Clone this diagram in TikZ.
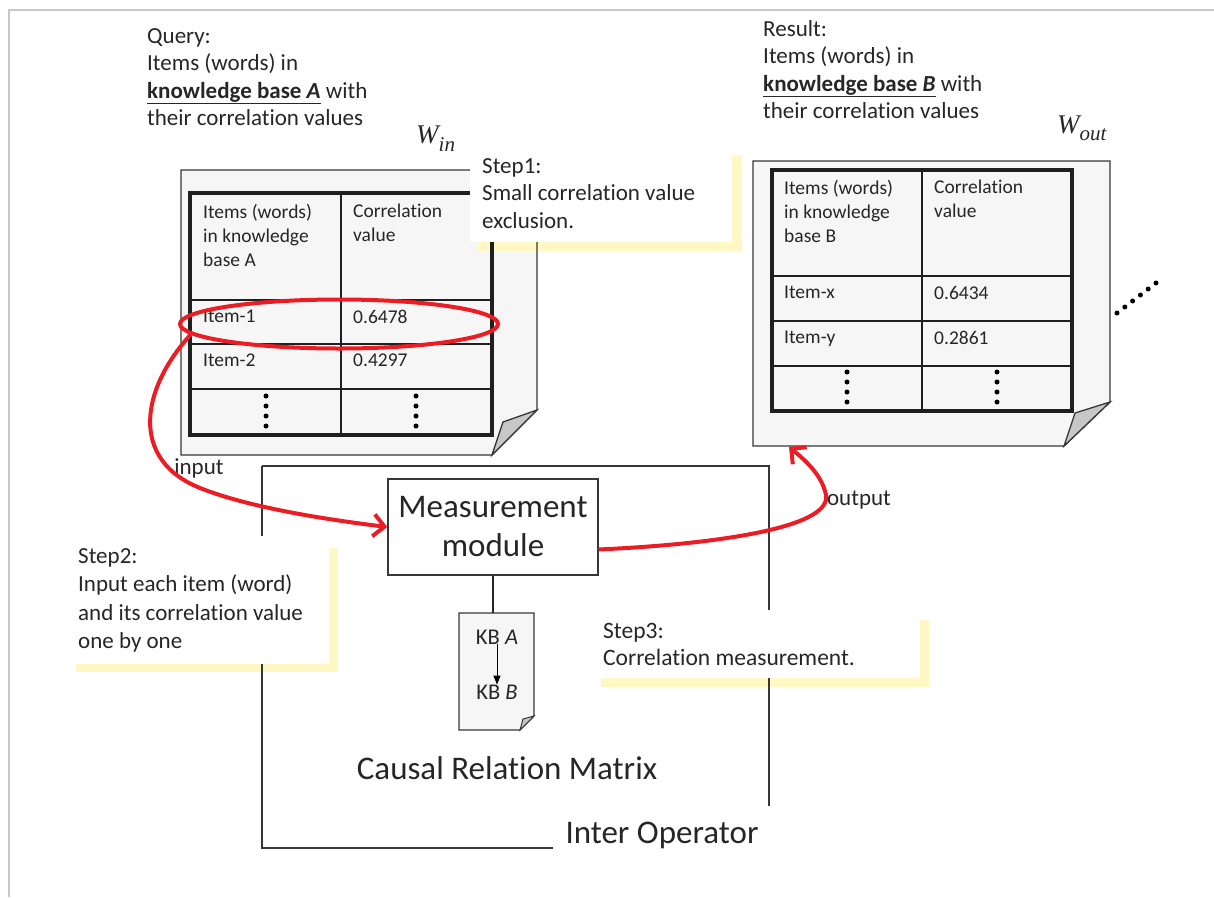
\documentclass[tikz,border=0pt]{standalone}
\usepackage{fontspec}
\setmainfont{Carlito}[Ligatures=NoCommon]
\newfontfamily\tmsfam{Liberation Serif}
\usetikzlibrary{arrows.meta,shapes.geometric}
\definecolor{stepyellow}{RGB}{255,248,196}
\definecolor{myred}{RGB}{236,28,36}
\definecolor{pagefill}{RGB}{246,246,246}
\definecolor{framegray}{RGB}{200,200,200}
\definecolor{linegray}{RGB}{55,55,55}
\newcommand\bigtxtfont{\fontsize{23}{27.5}\selectfont}
\newcommand\tabtxtfont{\fontsize{19.5}{24}\selectfont}
\begin{document}
\begin{tikzpicture}[x=1pt,y=-1pt,
  txt/.style={anchor=north west, inner sep=0pt, align=left, text=black!85},
  bigtxt/.style={txt, font=\bigtxtfont},
  tabtxt/.style={txt, font=\tabtxtfont},
  pageshape/.style={draw=linegray, line width=1.3pt},
  foldshape/.style={draw=linegray, line width=1.3pt, fill=black!22},
  tabouter/.style={draw=black!88, line width=3.5pt},
  tabinner/.style={draw=black!88, line width=2pt},
  ybar/.style={fill=stepyellow, draw=none},
  wbox/.style={fill=white, draw=none},
  oplines/.style={draw=linegray, line width=1.4pt},
  redline/.style={draw=myred, line width=4pt},
  redarrow/.style={redline, -{Straight Barb[length=11pt,width=22pt,line width=4pt]}},
  tdot/.style={circle, fill=black, inner sep=0pt, minimum size=5pt}]
\useasboundingbox (0,0) rectangle (1214,897);
% outer frame
\draw[framegray, line width=2pt] (9,897) -- (9,10) -- (1214,10);

% page fills
\fill[pagefill] (181,170) -- (537,170) -- (537,410) -- (492,455) -- (181,455) -- cycle;
\fill[pagefill] (753,161) -- (1110,161) -- (1110,402) -- (1064,446) -- (753,446) -- cycle;

% yellow step shadows
\fill[ybar] (732,155) rectangle (742,251);
\fill[ybar] (478,242) rectangle (742,251);
\fill[ybar] (329,548) rectangle (338,672);
\fill[ybar] (76,664) rectangle (338,672);
\fill[ybar] (920,620) rectangle (929,687);
\fill[ybar] (601,678) rectangle (929,687);

% page A
\draw[pageshape] (181,170) -- (537,170) -- (537,410) -- (492,455) -- (181,455) -- cycle;
\draw[foldshape] (492,455) -- (503,422) -- (537,410) -- cycle;
% table A
\draw[tabinner] (341,193) -- (341,435);
\draw[tabinner] (190,300) -- (492,300);
\draw[tabinner] (190,344) -- (492,344);
\draw[tabinner] (190,389) -- (492,389);
\draw[tabouter] (190,193) rectangle (492,435);

% page B
\draw[pageshape] (753,161) -- (1110,161) -- (1110,402) -- (1064,446) -- (753,446) -- cycle;
\draw[foldshape] (1064,446) -- (1075,413) -- (1110,402) -- cycle;
% table B
\draw[tabinner] (922,170) -- (922,411);
\draw[tabinner] (772,276) -- (1072,276);
\draw[tabinner] (772,321) -- (1072,321);
\draw[tabinner] (772,366) -- (1072,366);
\draw[tabouter] (772,170) rectangle (1072,411);

% inter operator frame
\draw[oplines] (262,466) -- (769,466) -- (769,806);
\draw[oplines] (262,466) -- (262,848) -- (553,848);

% white step boxes
\fill[wbox] (470,150) rectangle (732,242);
\fill[wbox] (68,536) rectangle (329,664);
\fill[wbox] (594,610) rectangle (920,678);

% top texts
\node[bigtxt] (query) at (147,28) {Query:\\Items (words) in\\\textbf{\underline{knowledge base \textit{A}}} with\\their correlation values};
\node[bigtxt] (result) at (763,20) {Result:\\Items (words) in\\\textbf{\underline{knowledge base \textit{B}}} with\\their correlation values};

% W labels
\node[anchor=base west, inner sep=0pt, font=\tmsfam\itshape\fontsize{27}{27}\selectfont, text=black!85] (win) at (416,143) {W\raisebox{-8pt}{\fontsize{21}{21}\selectfont in}};
\node[anchor=base west, inner sep=0pt, font=\tmsfam\itshape\fontsize{27}{27}\selectfont, text=black!85] (wout) at (1057,133) {W\raisebox{-7pt}{\fontsize{21}{21}\selectfont out}};

% step texts
\node[bigtxt] (step1) at (482,158) {Step1:\\Small correlation value\\exclusion.};
\node[bigtxt, font=\fontsize{23}{28.5}\selectfont] (step2) at (78,548) {Step2:\\Input each item (word)\\and its correlation value\\one by one};
\node[bigtxt, font=\fontsize{23.5}{27}\selectfont] (step3) at (603,623) {Step3:\\Correlation measurement.};

% table A texts
\node[tabtxt] (ah1) at (203,204) {Items (words)\\in knowledge\\base A};
\node[tabtxt] (ah2) at (353,204) {Correlation\\value};
\node[tabtxt] (a11) at (203,310) {Item-1};
\node[tabtxt] (a12) at (353,310) {0.6478};
\node[tabtxt] (a21) at (203,354) {Item-2};
\node[tabtxt] (a22) at (353,354) {0.4297};
\foreach \yy in {396,406,416,426}{
  \node[tdot] at (266,\yy) {};
  \node[tdot] at (416,\yy) {};
}
% table B texts
\node[tabtxt] (bh1) at (784,180) {Items (words)\\in knowledge\\base B};
\node[tabtxt] (bh2) at (934,180) {Correlation\\value};
\node[tabtxt] (b11) at (784,286) {Item-x};
\node[tabtxt] (b12) at (934,286) {0.6434};
\node[tabtxt] (b21) at (784,331) {Item-y};
\node[tabtxt] (b22) at (934,331) {0.2861};
\foreach \yy in {372,382,392,402}{
  \node[tdot] at (847,\yy) {};
  \node[tdot] at (997,\yy) {};
}
\foreach \k in {0,...,5}{
  \node[tdot] at ({1117+\k*7.8},{313-\k*6}) {};
}

% measurement module
\node[draw=linegray, line width=1.4pt, minimum width=210pt, minimum height=96pt, inner sep=0pt, align=center, font=\fontsize{33}{39}\selectfont, text=black!85, fill=white] (mm) at (493,527) {Measurement\\module};

% causal relation matrix document
\draw[pageshape, fill=pagefill] (459,613) -- (534,613) -- (534,716) -- (520,730) -- (459,730) -- cycle;
\draw[foldshape, line width=1pt] (520,730) -- (523,719) -- (534,716) -- cycle;
\coordinate (crmtop) at (493,613);
\draw[line width=2pt, draw=black!85] (mm.south) -- (crmtop);
\node[inner sep=0pt, font=\fontsize{22.5}{22.5}\selectfont, text=black!85] (kba) at (497,637) {KB \textit{A}};
\node[inner sep=0pt, font=\fontsize{22.5}{22.5}\selectfont, text=black!85] (kbb) at (497,692) {KB \textit{B}};
\draw[line width=1pt, -{Triangle[length=9pt,width=7pt]}] (kba.south) -- (kbb.north);

\node[inner sep=0pt, font=\fontsize{33}{33}\selectfont, text=black!85] (crm) at (507,768) {Causal Relation Matrix};
\node[inner sep=0pt, font=\fontsize{33}{33}\selectfont, text=black!85] (interop) at (662,835) {Inter Operator};

\node[inner sep=0pt, font=\fontsize{23}{23}\selectfont, text=black!85] (inlbl) at (199,468) {input};
\node[inner sep=0pt, font=\fontsize{23}{23}\selectfont, text=black!85] (outlbl) at (859,500) {output};

% red selection and arrows
\node[ellipse, draw=myred, line width=4pt, minimum width=318pt, minimum height=49pt, inner sep=0pt] (sel) at (339,324) {};
\coordinate (outtip) at (789,447);
\draw[redarrow] (sel.184) .. controls (140,390) and (130,460) .. (200,488) .. controls (250,508) and (330,520) .. (mm.west);
\draw[redarrow] (mm.348) .. controls (700,545) and (832,530) .. (826,495) .. controls (822,475) and (805,460) .. (outtip);
\end{tikzpicture}
\end{document}
